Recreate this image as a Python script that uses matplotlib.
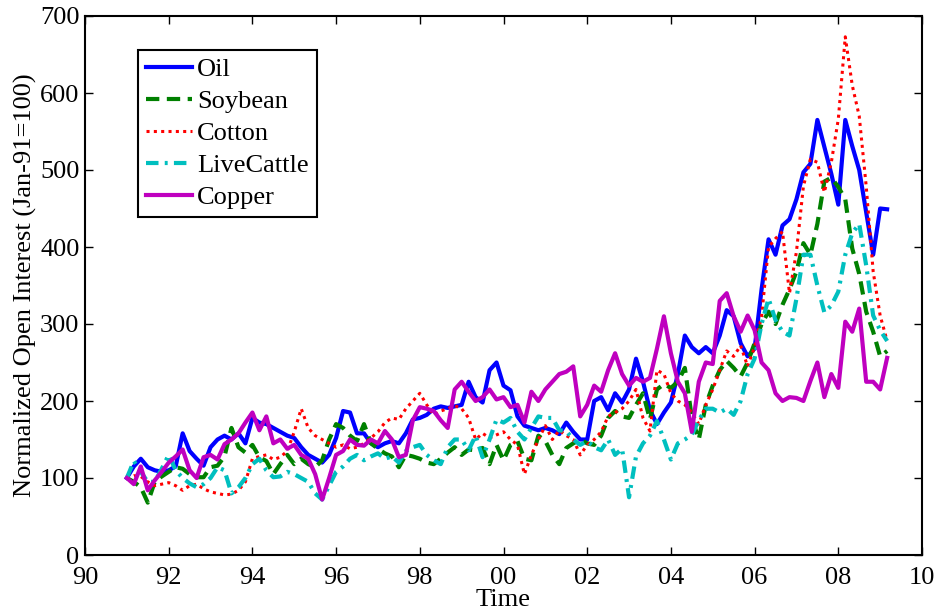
import numpy as np
import matplotlib
matplotlib.use("Agg")
import matplotlib.pyplot as plt

plt.rcParams['font.family'] = ['Liberation Serif', 'DejaVu Serif']

# Normalized open interest (Jan-91 = 100), sampled every two months from Jan 1991
oil = [
    100, 115, 125, 114, 110, 108,   # 1991
    110, 115, 158, 135, 125, 116,   # 1992
    140, 150, 155, 150, 158, 145,   # 1993
    178, 172, 170, 165, 160, 155,   # 1994
    152, 140, 130, 125, 120, 130,   # 1995
    152, 187, 185, 158, 158, 145,   # 1996
    140, 145, 148, 145, 158, 176,   # 1997
    178, 182, 190, 193, 191, 193,   # 1998
    195, 225, 205, 198, 240, 250,   # 1999
    220, 214, 180, 168, 165, 162,   # 2000
    165, 162, 157, 172, 160, 150,   # 2001
    150, 200, 205, 188, 210, 198,   # 2002
    215, 255, 225, 188, 170, 185,   # 2003
    198, 235, 285, 270, 262, 270,   # 2004
    262, 285, 318, 310, 275, 258,   # 2005
    268, 345, 410, 390, 428, 436,   # 2006
    462, 497, 508, 565, 530, 495,   # 2007
    455, 565, 531, 500, 445, 390,   # 2008
    450, 449,                       # 2009
]
soybean = [
    100, 95, 88, 68, 95, 102,
    108, 114, 112, 105, 101, 101,
    114, 116, 128, 165, 140, 133,
    143, 127, 122, 105, 118, 130,
    118, 125, 118, 114, 123, 150,
    170, 165, 155, 148, 170, 145,
    138, 132, 128, 114, 130, 128,
    125, 120, 118, 125, 133, 140,
    130, 137, 136, 139, 118, 143,
    123, 143, 148, 125, 123, 155,
    148, 130, 118, 139, 145, 150,
    145, 143, 155, 178, 187, 180,
    178, 195, 210, 176, 215, 222,
    217, 225, 243, 178, 150, 195,
    220, 240, 252, 243, 232, 250,
    275, 300, 316, 300, 325, 345,
    368, 405, 390, 430, 485, 490,
    478, 462, 398, 365, 316, 290,
    258, 265,
]
cotton = [
    100, 103, 102, 95, 90, 92,
    94, 90, 84, 90, 92, 86,
    82, 80, 78, 79, 84, 95,
    125, 128, 130, 124, 127, 135,
    160, 190, 165, 155, 150, 145,
    140, 143, 138, 140, 145, 152,
    160, 172, 178, 176, 190, 200,
    210, 195, 182, 187, 190, 194,
    190, 178, 150, 158, 152, 156,
    160, 150, 143, 105, 130, 150,
    168, 150, 162, 155, 150, 130,
    143, 150, 160, 180, 185, 190,
    200, 215, 178, 161, 240, 235,
    210, 200, 195, 185, 170, 195,
    215, 240, 265, 258, 272, 245,
    270, 310, 400, 411, 420, 340,
    394, 479, 514, 510, 471, 510,
    566, 673, 610, 570, 479, 368,
    311, 278,
]
livecattle = [
    100, 122, 108, 95, 95, 112,
    130, 110, 100, 93, 88, 92,
    100, 114, 110, 80, 88, 100,
    118, 125, 110, 101, 102, 108,
    105, 100, 95, 80, 72, 90,
    108, 115, 125, 130, 123, 128,
    132, 125, 128, 120, 135, 140,
    143, 130, 123, 118, 140, 150,
    150, 136, 155, 127, 150, 176,
    172, 178, 160, 150, 165, 180,
    178, 178, 162, 161, 150, 143,
    148, 140, 136, 150, 130, 138,
    75, 128, 145, 155, 174, 150,
    124, 145, 150, 156, 175, 190,
    190, 185, 190, 182, 200, 235,
    255, 300, 333, 305, 290, 285,
    333, 390, 390, 350, 315, 324,
    342, 390, 418, 430, 376, 311,
    292, 278,
]
copper = [
    100, 92, 115, 84, 97, 108,
    120, 128, 137, 110, 100, 127,
    130, 124, 144, 150, 158, 172,
    185, 162, 180, 145, 150, 138,
    143, 130, 125, 105, 72, 100,
    130, 135, 150, 143, 142, 150,
    145, 161, 150, 127, 130, 175,
    192, 190, 187, 175, 165, 215,
    225, 212, 200, 205, 215, 202,
    205, 192, 195, 172, 212, 200,
    215, 225, 235, 238, 245, 180,
    195, 220, 212, 240, 262, 235,
    220, 230, 225, 230, 268, 310,
    262, 225, 210, 160, 225, 250,
    248, 330, 340, 310, 290, 311,
    292, 250, 240, 210, 200, 205,
    204, 200, 226, 250, 205, 235,
    217, 303, 290, 320, 225, 225,
    215, 256,
]

xtick_pos = [1990, 1992, 1994, 1996, 1998, 2000, 2002, 2004, 2006, 2008, 2010]
xtick_lab = ['90', '92', '94', '96', '98', '00', '02', '04', '06', '08', '10']

t = 1991 + np.arange(len(oil)) / 6.0

fig = plt.figure(figsize=(9.35, 6.13), dpi=100)
ax = fig.add_axes([85 / 935, 1 - 555 / 613, 837 / 935, 539 / 613])

ax.plot(t, oil, color='#0000ff', lw=3, label='Oil')
ax.plot(t, soybean, color='#008000', lw=3, dashes=(3.2, 1.8), label='Soybean')
ax.plot(t, cotton, color='#ff0000', lw=2.2, dashes=(1.0, 1.4), label='Cotton')
ax.plot(t, livecattle, color='#00bfbf', lw=3, dashes=(3.0, 1.5, 0.7, 1.5), label='LiveCattle')
ax.plot(t, copper, color='#bf00bf', lw=3, label='Copper')

ax.set_xlim(1990, 2010)
ax.set_ylim(0, 700)
ax.set_xticks(xtick_pos)
ax.set_xticklabels(xtick_lab)
ax.set_yticks(np.arange(0, 701, 100))
ax.tick_params(direction='in', length=6, width=1, labelsize=19, top=True, right=True)
ax.tick_params(axis='x', pad=9)
ax.tick_params(axis='y', pad=4)
for s in ax.spines.values():
    s.set_linewidth(1.5)

ax.set_xlabel('Time', fontsize=19, labelpad=-0.5)
ax.set_ylabel('Normalized Open Interest (Jan-91=100)', fontsize=19, labelpad=2)

leg = ax.legend(loc='upper left', bbox_to_anchor=(0.063, 0.937), borderaxespad=0,
                fontsize=19, fancybox=False, edgecolor='black', framealpha=1,
                handlelength=1.75, handletextpad=0.2, labelspacing=0.32,
                borderpad=0.3)
leg.get_frame().set_linewidth(1.5)

fig.savefig('out.png', dpi=100)
